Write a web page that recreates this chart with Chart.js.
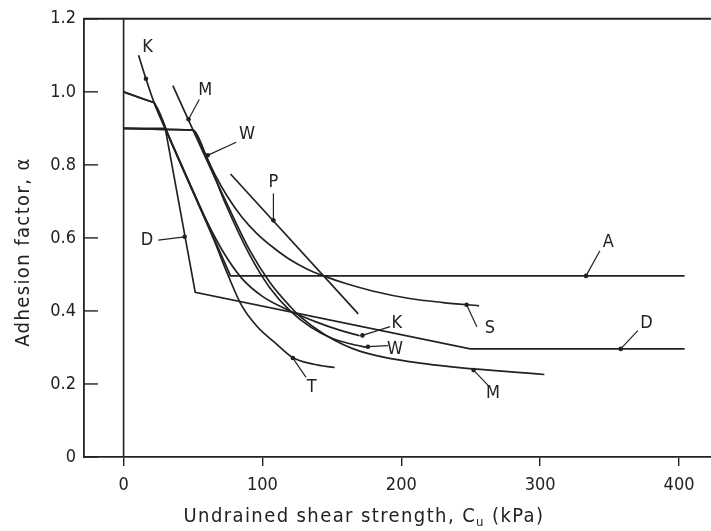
<!DOCTYPE html>
<html>
<head>
<meta charset="utf-8">
<script src="https://cdn.jsdelivr.net/npm/chart.js@4.4.1/dist/chart.umd.min.js"></script>
<style>
  html, body { margin: 0; padding: 0; background: #fff; }
  #wrap { width: 711px; height: 531px; position: relative; }
</style>
</head>
<body>
<div id="wrap"><canvas id="c" width="711" height="531"></canvas></div>
<script>
const FONT = '"DejaVu Sans Condensed", "Liberation Sans Narrow", "DejaVu Sans", sans-serif';
const INK = '#222222';

// Adhesion factor relations, each point is [Cu (kPa), alpha]
const curveA = [[0, 1.0], [22, 0.97], [77, 0.496], [404, 0.496]];
const curveD = [[0, 0.9], [30, 0.9], [51.6, 0.451], [249.6, 0.296], [404, 0.296]];
const curveP = [[77, 0.775], [169, 0.392]];
const curveK = [[10.8, 1.10], [16.1, 1.036], [22, 0.97], [31, 0.89], [45, 0.77], [60, 0.645],
                [72, 0.56], [85, 0.49], [100, 0.44], [120, 0.40], [140, 0.368], [155, 0.348], [170, 0.332]];
const curveT = [[0, 1.0], [20, 0.973], [22, 0.97], [35, 0.855], [50, 0.725], [65, 0.595], [75, 0.5],
                [85, 0.415], [96, 0.358], [110, 0.31], [122, 0.272], [137, 0.254], [152, 0.245]];
const curveW = [[0, 0.9], [49, 0.895], [50.5, 0.894], [60, 0.82], [74, 0.688], [91, 0.552],
                [105, 0.465], [120, 0.40], [135, 0.355], [150, 0.325], [163, 0.31], [176, 0.30]];
const curveM = [[35.5, 1.017], [57.5, 0.833], [74, 0.697], [91, 0.565], [105, 0.48], [120, 0.412],
                [127, 0.385], [145, 0.335], [170, 0.29], [218, 0.255], [303, 0.226]];
const curveS = [[0, 0.9], [49, 0.895], [50.5, 0.894], [58, 0.835], [66, 0.772], [75, 0.712],
                [85, 0.658], [96, 0.612], [108, 0.573], [120, 0.54], [132, 0.515], [144, 0.496],
                [160, 0.475], [180, 0.454], [206, 0.434], [230, 0.423], [256, 0.414]];

const xTicks = [0, 100, 200, 300, 400];
const yTicks = [0, 0.2, 0.4, 0.6, 0.8, 1.0, 1.2];
const yTickLabels = ['0', '0.2', '0.4', '0.6', '0.8', '1.0', '1.2'];
const xRange = [-28.5, 423];
const yRange = [0, 1.2];

const series = [
  { name: 'A', pts: curveA, smooth: false },
  { name: 'D', pts: curveD, smooth: false },
  { name: 'P', pts: curveP, smooth: false },
  { name: 'K', pts: curveK, smooth: true },
  { name: 'T', pts: curveT, smooth: true },
  { name: 'W', pts: curveW, smooth: true },
  { name: 'M', pts: curveM, smooth: true },
  { name: 'S', pts: curveS, smooth: true }
];

// Curve tags with leader lines: tag text, tag centre, leader start, leader end on the curve
const tags = [
  { t: 'K', at: [17.2, 1.121], from: null, to: [16.1, 1.036] },
  { t: 'M', at: [58.8, 1.005], from: [54.5, 0.979], to: [46.8, 0.925] },
  { t: 'W', at: [88.8, 0.883], from: [81.1, 0.862], to: [60.5, 0.826] },
  { t: 'P', at: [107.9, 0.751], from: [107.9, 0.722], to: [107.9, 0.648] },
  { t: 'D', at: [16.8, 0.592], from: [25, 0.594], to: [44, 0.603] },
  { t: 'A', at: [349, 0.587], from: [343, 0.565], to: [333, 0.496] },
  { t: 'S', at: [263.8, 0.351], from: [254.4, 0.357], to: [247, 0.417] },
  { t: 'K', at: [196.7, 0.365], from: [191.9, 0.357], to: [172, 0.333] },
  { t: 'W', at: [195.5, 0.296], from: [190.4, 0.305], to: [176, 0.302] },
  { t: 'D', at: [376.5, 0.365], from: [370.3, 0.346], to: [358, 0.296] },
  { t: 'T', at: [135.5, 0.192], from: [131.4, 0.218], to: [121.9, 0.271] },
  { t: 'M', at: [266, 0.174], from: [263, 0.194], to: [252, 0.238] }
];

const toXY = pts => pts.map(p => ({ x: p[0], y: p[1] }));

const frameAndTags = {
  id: 'frameAndTags',
  afterDraw(chart) {
    const { ctx, chartArea: ca, scales: { x, y } } = chart;
    ctx.save();
    ctx.strokeStyle = INK;
    ctx.lineCap = 'butt';

    // top frame line at the upper axis limit
    ctx.lineWidth = 2;
    ctx.beginPath();
    ctx.moveTo(ca.left, y.getPixelForValue(yRange[1]));
    ctx.lineTo(ca.right, y.getPixelForValue(yRange[1]));
    ctx.stroke();

    // vertical line at Cu = 0
    ctx.lineWidth = 1.6;
    const x0 = x.getPixelForValue(0);
    ctx.beginPath();
    ctx.moveTo(x0, y.getPixelForValue(yRange[1]));
    ctx.lineTo(x0, y.getPixelForValue(0));
    ctx.stroke();

    // inward tick marks on the alpha axis
    ctx.lineWidth = 1.4;
    yTicks.forEach(v => {
      const py = y.getPixelForValue(v);
      ctx.beginPath();
      ctx.moveTo(ca.left, py);
      ctx.lineTo(ca.left + 14, py);
      ctx.stroke();
    });

    // curve tags
    ctx.fillStyle = INK;
    ctx.lineWidth = 1.2;
    ctx.font = '18px ' + FONT;
    ctx.textAlign = 'center';
    ctx.textBaseline = 'middle';
    tags.forEach(g => {
      ctx.fillText(g.t, x.getPixelForValue(g.at[0]), y.getPixelForValue(g.at[1]));
      const ex = x.getPixelForValue(g.to[0]), ey = y.getPixelForValue(g.to[1]);
      if (g.from) {
        ctx.beginPath();
        ctx.moveTo(x.getPixelForValue(g.from[0]), y.getPixelForValue(g.from[1]));
        ctx.lineTo(ex, ey);
        ctx.stroke();
      }
      ctx.beginPath();
      ctx.arc(ex, ey, 2.3, 0, Math.PI * 2);
      ctx.fill();
    });

    // axis titles
    ctx.letterSpacing = '1.4px';
    ctx.font = '20px ' + FONT;
    ctx.textBaseline = 'alphabetic';
    const main = 'Undrained shear strength, C';
    const sub = 'u';
    const tail = ' (kPa)';
    const wMain = ctx.measureText(main).width;
    ctx.font = '13px ' + FONT;
    const wSub = ctx.measureText(sub).width;
    ctx.font = '20px ' + FONT;
    const wTail = ctx.measureText(tail).width;
    let tx = 364 - (wMain + wSub + wTail) / 2;
    const ty = 522;
    ctx.textAlign = 'left';
    ctx.fillText(main, tx, ty);
    tx += wMain;
    ctx.font = '13px ' + FONT;
    ctx.fillText(sub, tx, ty + 4);
    tx += wSub;
    ctx.font = '20px ' + FONT;
    ctx.fillText(tail, tx, ty);

    ctx.translate(29, 252);
    ctx.rotate(-Math.PI / 2);
    ctx.textAlign = 'center';
    ctx.fillText('Adhesion factor, \u03B1', 0, 0);
    ctx.restore();
  }
};

new Chart(document.getElementById('c'), {
  type: 'line',
  data: {
    datasets: series.map(s => ({
      label: s.name,
      data: toXY(s.pts),
      borderColor: INK,
      borderWidth: 1.7,
      pointRadius: 0,
      fill: false,
      tension: 0,
      cubicInterpolationMode: s.smooth ? 'monotone' : 'default'
    }))
  },
  options: {
    responsive: false,
    animation: false,
    devicePixelRatio: 1,
    layout: { padding: { top: 17, right: 0, left: 0, bottom: 0 } },
    plugins: { legend: { display: false }, tooltip: { enabled: false } },
    scales: {
      x: {
        type: 'linear',
        min: xRange[0],
        max: xRange[1],
        afterBuildTicks: s => { s.ticks = xTicks.map(v => ({ value: v })); },
        afterFit: s => { s.height = 74; },
        grid: { display: true, drawOnChartArea: false, drawTicks: true, tickLength: 9, color: INK, lineWidth: 1.4 },
        border: { display: true, color: INK, width: 1.8 },
        ticks: { color: INK, font: { family: FONT, size: 18 }, padding: 9, maxRotation: 0,
                 callback: v => String(v) }
      },
      y: {
        type: 'linear',
        min: yRange[0],
        max: yRange[1],
        afterBuildTicks: s => { s.ticks = yTicks.map(v => ({ value: v })); },
        afterFit: s => { s.width = 84; },
        grid: { display: false, drawTicks: false },
        border: { display: true, color: INK, width: 1.8 },
        ticks: { color: INK, font: { family: FONT, size: 18 }, padding: 8,
                 callback: (v, i) => yTickLabels[i] }
      }
    }
  },
  plugins: [frameAndTags]
});
</script>
</body>
</html>
